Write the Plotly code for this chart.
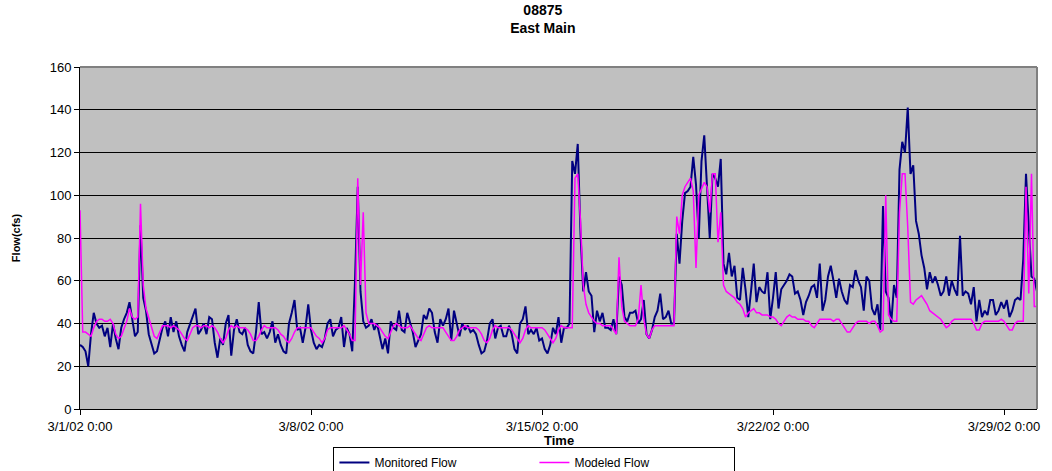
import pandas as pd
import plotly.graph_objects as go

# ---- data (2-hour samples starting 3/1/02 0:00) ----
start_time = "2002-03-01 00:00"
sample_step = "2h"

monitored_flow = [
    30, 29, 27, 20, 35, 45, 40, 38, 39, 34, 38, 29,      # 3/1
    40, 33, 28, 38, 42, 45, 50, 42, 34, 36, 86, 52,      # 3/2
    46, 35, 31, 26, 27, 33, 38, 41, 34, 43, 36, 41,      # 3/3
    34, 30, 27, 36, 40, 44, 47, 35, 37, 40, 35, 43,      # 3/4
    42, 31, 24, 33, 30, 40, 44, 25, 37, 42, 36, 35,      # 3/5
    38, 30, 27, 26, 36, 50, 35, 36, 33, 36, 41, 31,      # 3/6
    35, 30, 27, 26, 40, 45, 51, 37, 38, 31, 38, 49,      # 3/7
    37, 31, 28, 30, 29, 33, 40, 42, 34, 37, 38, 43,      # 3/8
    29, 38, 35, 27, 60, 104, 55, 41, 38, 39, 42, 37,     # 3/9
    40, 34, 28, 33, 26, 41, 38, 37, 46, 37, 36, 45,      # 3/10
    41, 36, 29, 32, 35, 44, 42, 47, 45, 36, 31, 42,      # 3/11
    39, 42, 47, 32, 46, 40, 34, 40, 37, 39, 36, 37,      # 3/12
    35, 30, 26, 27, 32, 40, 42, 33, 38, 39, 34, 34,      # 3/13
    39, 35, 28, 26, 40, 42, 48, 35, 37, 35, 38, 32,      # 3/14
    33, 28, 26, 30, 38, 35, 43, 31, 38, 38, 40, 116,     # 3/15
    110, 124, 82, 55, 64, 55, 53, 36, 46, 41, 45, 38,    # 3/16
    38, 37, 42, 35, 62, 58, 43, 41, 45, 45, 46, 40,      # 3/17
    42, 51, 35, 33, 37, 43, 46, 54, 42, 43, 46, 40,      # 3/18
    40, 82, 68, 88, 101, 102, 104, 118, 105, 80, 116, 128,  # 3/19
    105, 80, 110, 108, 104, 117, 68, 63, 73, 62, 67, 52,    # 3/20
    51, 66, 56, 43, 55, 68, 50, 57, 55, 54, 64, 42,      # 3/21
    52, 64, 47, 56, 58, 60, 63, 62, 54, 55, 51, 44,      # 3/22
    50, 53, 57, 58, 52, 68, 46, 51, 62, 67, 60, 52,      # 3/23
    61, 55, 51, 49, 58, 57, 65, 60, 57, 46, 62, 60,      # 3/24
    47, 44, 49, 37, 95, 55, 52, 40, 58, 52, 112, 125,    # 3/25
    120, 141, 110, 114, 88, 82, 72, 66, 56, 64, 59, 62,  # 3/26
    58, 53, 55, 62, 53, 60, 56, 53, 81, 53, 55, 54,      # 3/27
    49, 57, 41, 51, 43, 46, 44, 51, 51, 44, 46, 50,      # 3/28
    47, 51, 43, 46, 51, 52, 51, 70, 110, 88, 62, 61,     # 3/29
    55,                                                  # 3/30 0:00
]

modeled_flow = [
    93, 36, 36, 35, 34, 38, 41, 42, 42, 41, 41, 42,      # 3/1
    40, 35, 33, 34, 38, 41, 47, 43, 42, 43, 96, 58,      # 3/2
    47, 43, 38, 34, 33, 36, 39, 39, 39, 38, 39, 38,      # 3/3
    37, 35, 33, 32, 35, 38, 39, 39, 38, 39, 39, 38,      # 3/4
    39, 38, 36, 33, 31, 33, 37, 39, 38, 39, 38, 38,      # 3/5
    38, 37, 35, 32, 32, 34, 37, 39, 38, 38, 38, 38,      # 3/6
    37, 35, 34, 32, 31, 33, 36, 38, 38, 38, 38, 38,      # 3/7
    38, 36, 34, 33, 31, 33, 37, 38, 38, 38, 38, 38,      # 3/8
    39, 37, 35, 32, 32, 108, 58, 92, 45, 40, 40, 40,     # 3/9
    39, 38, 36, 34, 33, 36, 39, 40, 39, 38, 38, 38,      # 3/10
    39, 37, 35, 33, 32, 35, 38, 39, 38, 38, 38, 38,      # 3/11
    38, 36, 34, 32, 32, 34, 37, 38, 39, 38, 38, 38,      # 3/12
    38, 37, 35, 32, 31, 33, 37, 39, 38, 38, 38, 38,      # 3/13
    38, 37, 35, 33, 31, 33, 37, 39, 38, 38, 38, 38,      # 3/14
    38, 37, 35, 33, 31, 33, 37, 39, 38, 38, 38, 38,      # 3/15
    108, 110, 88, 58, 49, 45, 43, 41, 40, 40, 39, 39,    # 3/16
    39, 39, 37, 35, 71, 48, 41, 40, 39, 39, 39, 42,      # 3/17
    58, 42, 35, 33, 37, 39, 39, 39, 39, 39, 39, 39,      # 3/18
    39, 90, 82, 100, 104, 106, 108, 102, 66, 100, 103, 106,  # 3/19
    104, 92, 110, 110, 78, 92, 58, 55, 54, 53, 52, 50,   # 3/20
    49, 47, 43, 45, 46, 47, 45, 45, 44, 44, 44, 43,      # 3/21
    43, 42, 40, 39, 41, 43, 44, 43, 43, 42, 42, 42,      # 3/22
    41, 41, 39, 38, 40, 42, 42, 42, 42, 42, 41, 42,      # 3/23
    42, 40, 38, 36, 36, 38, 40, 41, 41, 41, 41, 40,      # 3/24
    41, 41, 39, 36, 37, 100, 44, 42, 41, 41, 92, 110,    # 3/25
    110, 85, 50, 49, 51, 52, 53, 51, 49, 46, 45, 44,     # 3/26
    43, 42, 40, 38, 39, 41, 42, 42, 42, 42, 42, 42,      # 3/27
    42, 40, 37, 37, 40, 41, 41, 41, 41, 41, 41, 42,      # 3/28
    41, 39, 37, 37, 40, 41, 41, 41, 104, 54, 110, 48,    # 3/29
    48,                                                  # 3/30 0:00
]

series_names = ["Monitored Flow", "Modeled Flow"]
series_colors = ["#000080", "#FF00FF"]
chart_title = ["08875", "East Main"]
x_title = "Time"
y_title = "Flow(cfs)"
y_ticks = [0, 20, 40, 60, 80, 100, 120, 140, 160]

times = pd.date_range(start_time, periods=len(monitored_flow), freq=sample_step)

FONT = "Liberation Sans, Arial, sans-serif"

fig = go.Figure()
fig.add_trace(go.Scatter(x=times, y=monitored_flow, mode="lines", name=series_names[0],
                         line=dict(color=series_colors[0], width=2)))
fig.add_trace(go.Scatter(x=times, y=modeled_flow, mode="lines", name=series_names[1],
                         line=dict(color=series_colors[1], width=1.5)))

fig.update_layout(
    width=1052, height=471,
    margin=dict(l=80, r=15, t=67, b=62, autoexpand=False),
    paper_bgcolor="white",
    plot_bgcolor="#C0C0C0",
    font=dict(family=FONT, size=13, color="black"),
    title=dict(text="<b>" + chart_title[0] + "</b><br><b>" + chart_title[1] + "</b>",
               x=0.516, xref="container", xanchor="center",
               y=0.969, yref="container", yanchor="top",
               font=dict(family=FONT, size=14, color="black")),
    showlegend=True,
    legend=dict(orientation="h", xref="container", yref="container",
                x=0.508, xanchor="center", y=0.051, yanchor="top",
                bordercolor="black", borderwidth=1, bgcolor="rgba(255,255,255,0)",
                font=dict(family=FONT, size=12, color="black"),
                entrywidth=155, tracegroupgap=0, itemwidth=30),
    xaxis=dict(
        type="date",
        range=["2002-03-01 00:00", "2002-03-30 00:00"],
        tick0="2002-03-01", dtick=7 * 86400000,
        tickformat="%-m/%-d/%y %-H:%M",
        ticks="outside", ticklen=5, tickcolor="black",
        showline=True, linecolor="black", linewidth=1,
        showgrid=False, zeroline=False, automargin=False,
        tickfont=dict(family=FONT, size=13, color="black"),
    ),
    yaxis=dict(
        range=[0, 160],
        tickvals=y_ticks,
        ticks="outside", ticklen=5, tickcolor="black",
        showline=True, linecolor="black", linewidth=1,
        showgrid=True, gridcolor="black", gridwidth=1,
        zeroline=False, automargin=False,
        tickfont=dict(family=FONT, size=13, color="black"),
        title=dict(text="<b>" + y_title + "</b>", standoff=26,
                   font=dict(family=FONT, size=11, color="black")),
    ),
    annotations=[
        dict(text="<b>" + x_title + "</b>", xref="paper", yref="paper",
             x=0.5, y=-0.091, xanchor="center", yanchor="middle", showarrow=False,
             font=dict(family=FONT, size=13, color="black")),
    ],
    shapes=[
        dict(type="line", xref="paper", yref="paper", x0=0, x1=1, y0=1, y1=1,
             line=dict(color="#808080", width=2), layer="above"),
        dict(type="line", xref="paper", yref="paper", x0=1, x1=1, y0=0, y1=1,
             line=dict(color="#808080", width=2), layer="above"),
    ],
)

fig.write_html("out.html", config={"displayModeBar": False},
               post_script="document.body.style.margin='0';document.body.style.padding='0';")
